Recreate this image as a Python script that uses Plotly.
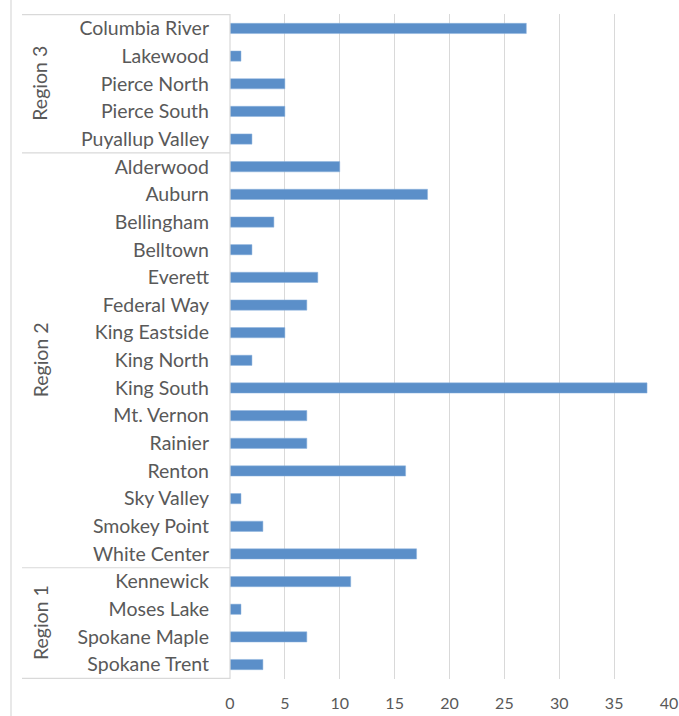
import plotly.graph_objects as go

regions = ["Region 3"] * 5 + ["Region 2"] * 15 + ["Region 1"] * 4
locations = [
    "Columbia River", "Lakewood", "Pierce North", "Pierce South", "Puyallup Valley",
    "Alderwood", "Auburn", "Bellingham", "Belltown", "Everett", "Federal Way",
    "King Eastside", "King North", "King South", "Mt. Vernon", "Rainier", "Renton",
    "Sky Valley", "Smokey Point", "White Center",
    "Kennewick", "Moses Lake", "Spokane Maple", "Spokane Trent",
]
values = [27, 1, 5, 5, 2,
          10, 18, 4, 2, 8, 7, 5, 2, 38, 7, 7, 16, 1, 3, 17,
          11, 1, 7, 3]
x_ticks = [0, 5, 10, 15, 20, 25, 30, 35, 40]

W, H = 679, 716
L, R, T, B = 230, 10, 14, 37
pw = W - L - R
ph = H - T - B

font_family = "Lato, Carlito, Open Sans, sans-serif"
txt_color = "#595959"
fs = 19.5
fs_x = 16

fig = go.Figure()
fig.add_trace(go.Bar(
    y=locations, x=values, orientation="h",
    marker=dict(color="#5B8FC9", line=dict(color="#8FB4DE", width=0.5)),
    width=0.37,
    hoverinfo="x+y",
))

shapes = []
def px_to_paper_x(px):
    return (px - L) / pw

# left chart border
shapes.append(dict(type="line", xref="paper", yref="paper",
                   x0=px_to_paper_x(11), x1=px_to_paper_x(11),
                   y0=-B / ph, y1=(H - T) / ph,
                   line=dict(color="#D9D9D9", width=1.2)))
# group dividers
boundaries = [-0.5, 4.5, 19.5, 23.5]
for b in boundaries:
    shapes.append(dict(type="line", xref="paper", yref="y",
                       x0=px_to_paper_x(22), x1=0, y0=b, y1=b,
                       line=dict(color="#D9D9D9", width=1.2)))
# y axis line
shapes.append(dict(type="line", xref="paper", yref="paper",
                   x0=0, x1=0, y0=0, y1=1,
                   line=dict(color="#D9D9D9", width=1.2)))

annotations = []
groups = [("Region 3", 0, 4), ("Region 2", 5, 19), ("Region 1", 20, 23)]
for name, a, b in groups:
    annotations.append(dict(
        text=name, xref="paper", yref="y", x=px_to_paper_x(40), y=(a + b) / 2,
        textangle=-90, showarrow=False, xanchor="center", yanchor="middle",
        font=dict(family=font_family, size=fs, color=txt_color)))

fig.update_layout(
    width=W, height=H,
    margin=dict(l=L, r=R, t=T, b=B, pad=0, autoexpand=False),
    paper_bgcolor="white", plot_bgcolor="white",
    showlegend=False,
    bargap=0.63,
    shapes=shapes,
    annotations=annotations,
    font=dict(family=font_family, size=fs, color=txt_color),
    xaxis=dict(range=[0, 40], tickvals=x_ticks, ticktext=[str(v) for v in x_ticks],
               showgrid=True, gridcolor="#D9D9D9", gridwidth=1.2,
               zeroline=False, showline=False, ticks="", ticklabelstandoff=13,
               ticklabeloverflow="allow", automargin=False,
               tickfont=dict(family=font_family, size=fs_x, color=txt_color)),
    yaxis=dict(categoryorder="array", categoryarray=locations,
               autorange="reversed", showgrid=False, zeroline=False,
               showline=False, ticks="", ticklabelstandoff=20, automargin=False,
               tickfont=dict(family=font_family, size=fs, color=txt_color)),
)

fig.write_html("out.html")
